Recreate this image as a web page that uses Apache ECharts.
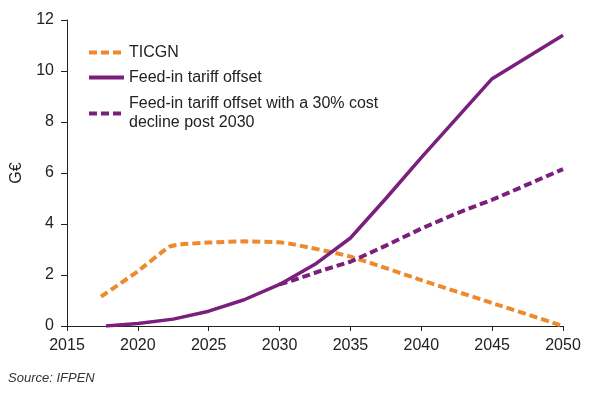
<!DOCTYPE html>
<html>
<head>
<meta charset="utf-8">
<script src="https://cdn.jsdelivr.net/npm/echarts@6/dist/echarts.min.js"></script>
<style>
  html, body { margin: 0; padding: 0; background: #fff; }
  #chart { width: 601px; height: 397px; }
</style>
</head>
<body>
<div id="chart"></div>
<script>
// 数据
var ticgnYears = [2017.4, 2020, 2022.2, 2023, 2025, 2027.5, 2030, 2031, 2035, 2040, 2045, 2050]
var ticgnValues = [1.15, 2.15, 3.1, 3.2, 3.27, 3.32, 3.28, 3.2, 2.72, 1.8, 0.9, 0]

var fitYears = [2017.75, 2020, 2022.5, 2025, 2027.5, 2030, 2032.5, 2035, 2037.5, 2040, 2042.5, 2045, 2050]
var fitValues = [0, 0.1, 0.27, 0.58, 1.03, 1.63, 2.42, 3.45, 5.0, 6.6, 8.15, 9.7, 11.4]

var fitCutYears = [2030, 2031, 2033, 2035, 2037.5, 2040, 2042.5, 2045, 2050]
var fitCutValues = [1.63, 1.8, 2.18, 2.52, 3.15, 3.82, 4.42, 4.95, 6.15]

var xTicks = [2015, 2020, 2025, 2030, 2035, 2040, 2045, 2050]
var yTicks = [0, 2, 4, 6, 8, 10, 12]

var names = [
  'TICGN',
  'Feed-in tariff offset',
  'Feed-in tariff offset with a 30% cost decline post 2030'
]

function pairs(xs, ys) {
  var out = []
  for (var i = 0; i < xs.length; i++) {
    out.push([xs[i], ys[i]])
  }
  return out
}

var orange = '#ec8a2d'
var purple = '#7a1f7c'
var font = '"Liberation Sans", Arial, Helvetica, sans-serif'

var chart = echarts.init(document.getElementById('chart'))
var legendBase = {
  orient: 'vertical',
  left: 82,
  itemWidth: 35,
  itemHeight: 14,
  itemGap: 0,
  itemStyle: { opacity: 0 },
  lineStyle: { width: 4 },
  textStyle: { fontFamily: font, fontSize: 16, color: '#222', lineHeight: 19 }
}
var option = {
  animation: false,
  grid: { left: 67, right: 38, top: 20, bottom: 71 },
  legend: [
    Object.assign({}, legendBase, { top: 38, data: [names[0]] }),
    Object.assign({}, legendBase, { top: 63, data: [names[1]] }),
    Object.assign({}, legendBase, {
      top: 91,
      data: [{ name: names[2], textStyle: { padding: [0, 0, -19, 0] } }],
      formatter: function() {
        return 'Feed-in tariff offset with a 30% cost\ndecline post 2030'
      }
    })
  ],
  xAxis: {
    type: 'value',
    min: xTicks[0],
    max: xTicks[xTicks.length - 1],
    interval: 5,
    splitLine: { show: false },
    axisLine: { lineStyle: { color: '#222', width: 1 } },
    axisTick: { show: true, length: 5, lineStyle: { color: '#222' } },
    axisLabel: {
      color: '#222',
      fontFamily: font,
      fontSize: 16,
      margin: 12,
      formatter: function(v) { return String(v) }
    }
  },
  yAxis: {
    type: 'value',
    min: yTicks[0],
    max: yTicks[yTicks.length - 1],
    interval: 2,
    name: 'G€',
    nameLocation: 'middle',
    nameGap: 42,
    nameTextStyle: { color: '#222', fontFamily: font, fontSize: 16 },
    splitLine: { show: false },
    axisLine: { show: true, lineStyle: { color: '#222', width: 1 } },
    axisTick: { show: true, length: 6, lineStyle: { color: '#222' } },
    axisLabel: { color: '#222', fontFamily: font, fontSize: 16, margin: 13 }
  },
  series: [
    {
      name: names[0],
      type: 'line',
      symbol: 'none',
      smooth: 0.2,
      data: pairs(ticgnYears, ticgnValues),
      itemStyle: { color: orange },
      lineStyle: { color: orange, width: 4, type: [8, 4] }
    },
    {
      name: names[1],
      type: 'line',
      symbol: 'none',
      data: pairs(fitYears, fitValues),
      itemStyle: { color: purple },
      lineStyle: { color: purple, width: 3.5 }
    },
    {
      name: names[2],
      type: 'line',
      symbol: 'none',
      data: pairs(fitCutYears, fitCutValues),
      itemStyle: { color: purple },
      lineStyle: { color: purple, width: 4, type: [8, 4] }
    }
  ],
  graphic: [
    {
      type: 'text',
      left: 8,
      top: 372,
      style: {
        text: 'Source: IFPEN',
        fontFamily: font,
        fontSize: 13,
        fontStyle: 'italic',
        fill: '#333'
      }
    }
  ]
}
chart.setOption(option)
</script>
</body>
</html>
